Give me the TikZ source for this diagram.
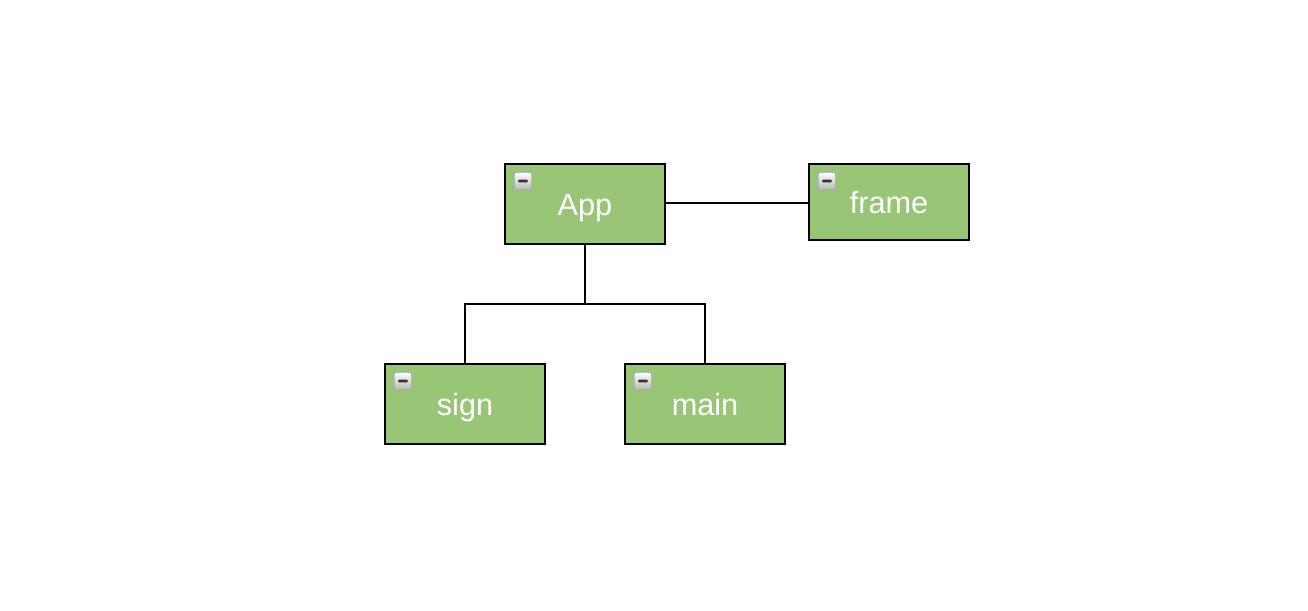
\documentclass[tikz,border=0pt]{standalone}
\usepackage{fontspec}
\setmainfont{Liberation Sans}
\usepackage{tikz}

\definecolor{boxgreen}{HTML}{99C676}
\definecolor{iconedge}{HTML}{9BA7B8}

\begin{document}
\begin{tikzpicture}[x=0.75pt, y=-0.75pt,
  box/.style={draw=black, line width=1.5pt, fill=boxgreen, minimum width=120pt,
    minimum height=60pt, inner sep=0pt, text=white, text height=16.5pt, text depth=0pt,
    font=\fontsize{23}{27}\selectfont},
  minus/.style={draw=iconedge, line width=0.6pt, top color=white, bottom color=gray!55,
    minimum size=13pt, inner sep=0pt, rounded corners=1pt,
    path picture={\fill[black!80] ([xshift=-3.8pt,yshift=-1pt]path picture bounding box.center)
      rectangle ([xshift=3.8pt,yshift=1pt]path picture bounding box.center);}},
  link/.style={line width=1.5pt}]

\useasboundingbox (0,0) rectangle (1308,610);

\node[box] (app) at (585, 204) {App};
\node[box, minimum height=57pt] (frame) at (889, 202) {frame};
\node[box] (sign) at (465, 404) {sign};
\node[box] (main) at (705, 404) {main};

\node[minus] (appicon) at (523, 181) {};
\node[minus] (frameicon) at (827, 181) {};
\node[minus] (signicon) at (403, 381) {};
\node[minus] (mainicon) at (643, 381) {};

\coordinate (fork) at (585, 304);

\draw[link] (app.east |- 0,203) -- (frame.west |- 0,203);
\draw[link] (app.south) -- (fork);
\draw[link] (sign.north) |- (fork) -| (main.north);

\end{tikzpicture}
\end{document}
